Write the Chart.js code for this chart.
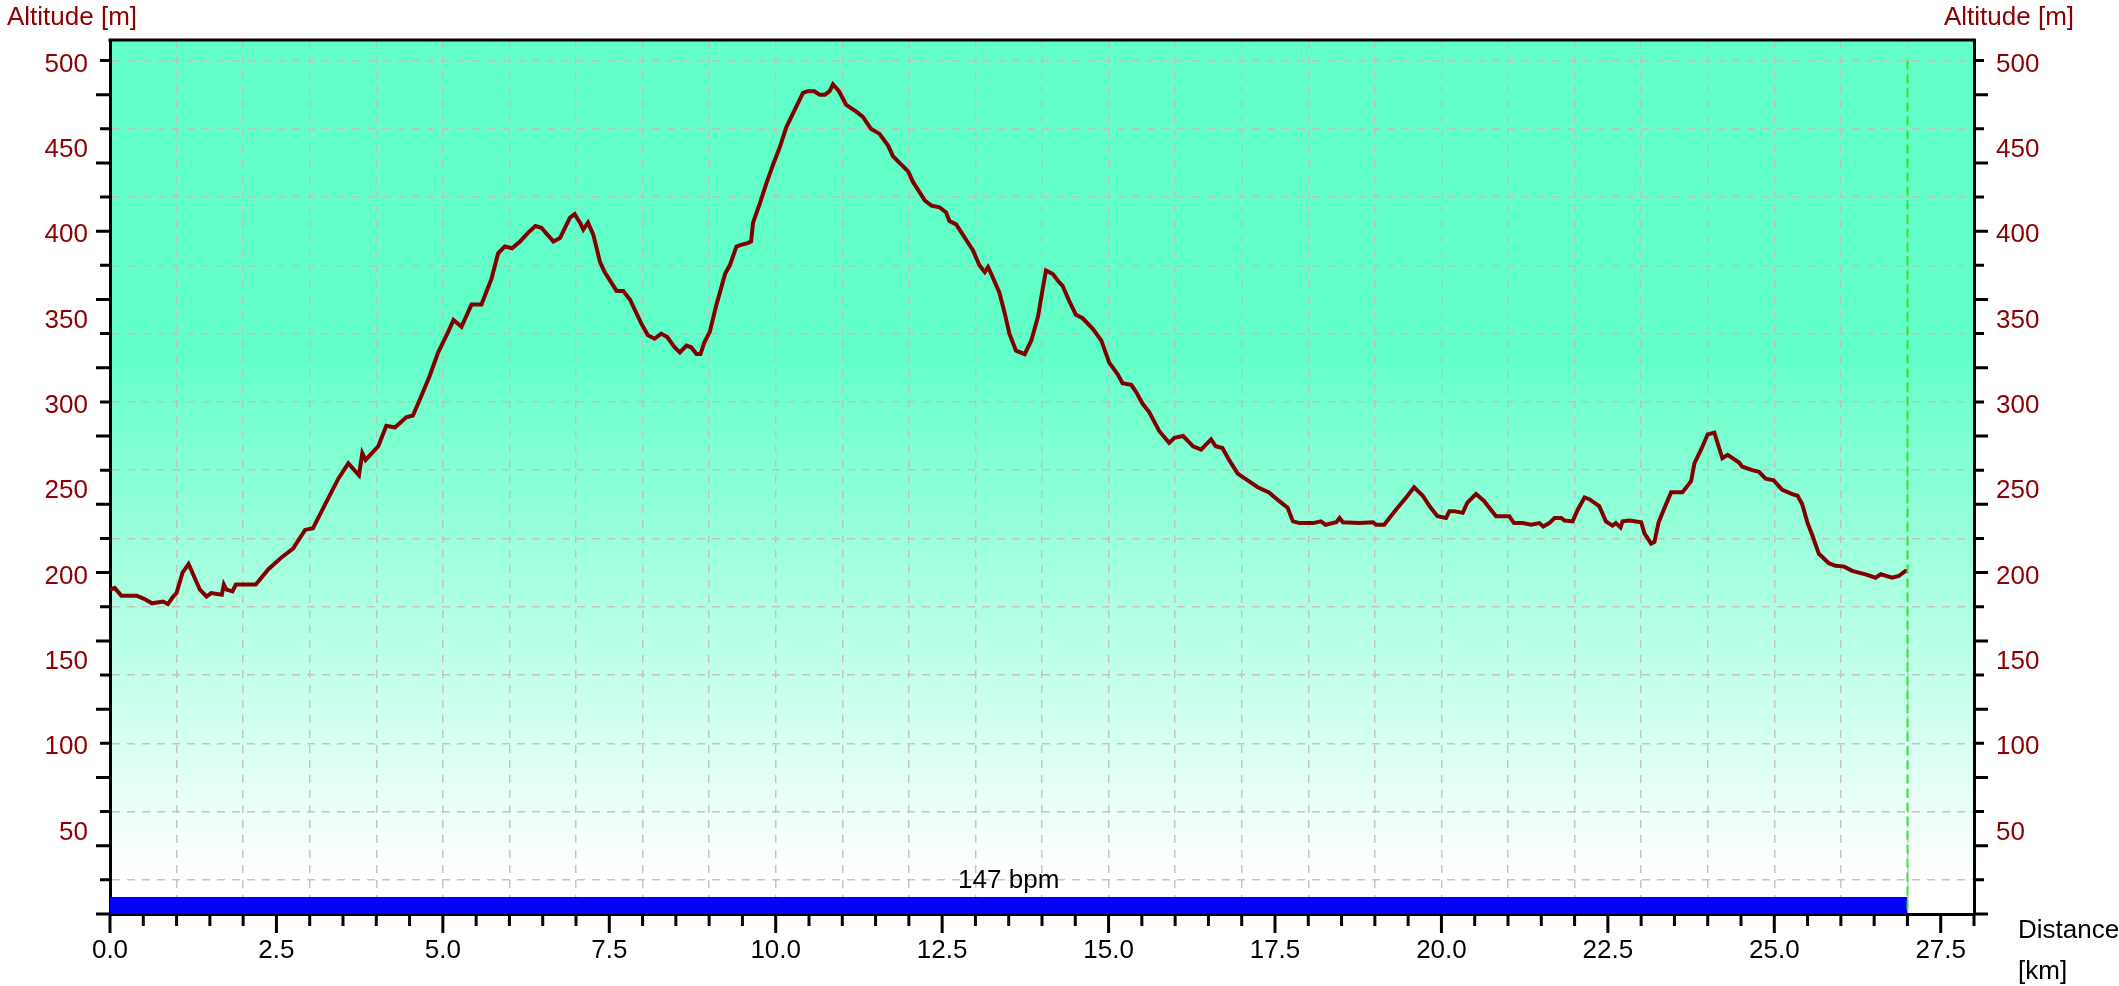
<!DOCTYPE html>
<html>
<head>
<meta charset="utf-8">
<script src="https://cdn.jsdelivr.net/npm/chart.js@4/dist/chart.umd.min.js"></script>
<style>
html,body{margin:0;padding:0;background:#fff;}
#wrap{width:2119px;height:986px;position:relative;}
</style>
</head>
<body>
<div id="wrap"><canvas id="c"></canvas></div>
<script>
// ---- data ----
const distanceKm = [0.0,0.07,0.17,0.40,0.52,0.63,0.80,0.87,0.95,1.0,1.09,1.18,1.35,1.45,1.52,1.68,1.71,1.75,1.84,1.89,2.19,2.38,2.58,2.75,2.93,3.05,3.18,3.43,3.58,3.74,3.79,3.84,4.03,4.15,4.28,4.45,4.55,4.65,4.80,4.93,5.08,5.16,5.28,5.43,5.58,5.73,5.83,5.93,6.04,6.16,6.28,6.39,6.48,6.66,6.76,6.91,6.98,7.06,7.11,7.18,7.26,7.36,7.43,7.61,7.71,7.81,7.98,8.08,8.18,8.28,8.37,8.48,8.56,8.66,8.73,8.81,8.87,8.93,9.01,9.11,9.24,9.31,9.41,9.48,9.58,9.63,9.66,9.76,9.86,9.96,10.06,10.16,10.26,10.41,10.48,10.58,10.66,10.74,10.81,10.86,10.95,11.06,11.21,11.31,11.43,11.56,11.69,11.76,11.86,11.99,12.06,12.24,12.34,12.46,12.56,12.61,12.71,12.86,12.96,13.06,13.14,13.19,13.26,13.36,13.44,13.51,13.61,13.74,13.84,13.94,14.01,14.06,14.16,14.26,14.31,14.41,14.51,14.61,14.76,14.89,15.01,15.14,15.21,15.34,15.41,15.51,15.61,15.76,15.91,15.99,16.12,16.27,16.39,16.54,16.61,16.71,16.81,16.94,17.09,17.24,17.41,17.56,17.69,17.77,17.87,18.07,18.19,18.26,18.42,18.47,18.52,18.77,18.97,19.02,19.14,19.32,19.47,19.59,19.72,19.82,19.94,20.07,20.12,20.19,20.32,20.39,20.52,20.64,20.82,21.02,21.09,21.22,21.35,21.47,21.53,21.62,21.70,21.80,21.85,21.97,22.05,22.15,22.22,22.37,22.47,22.57,22.62,22.69,22.72,22.82,23.0,23.05,23.15,23.20,23.26,23.32,23.45,23.62,23.75,23.80,23.90,24.00,24.10,24.22,24.30,24.47,24.52,24.67,24.77,24.87,24.99,25.12,25.27,25.35,25.42,25.50,25.57,25.67,25.82,25.92,26.05,26.17,26.37,26.52,26.60,26.77,26.87,26.97,27.0];
const altitudeM = [190,191,186.5,186.5,184.5,182,183,181.5,186,188,200,205,190,186,188,187,193,190,189,193,193,202,209,214,225,226,236,255,264,257,270,266,274,286,285,291,292,301,315,329,341,348,344,357,357,372,387,391,390,394,399,403,402,394,396,408,410,405,401,405,398,382,376,365,365,360,346,339,337,340,338,332,329,333,332,328,328,335,341,357,375,380,391,392,393,394,405,416,428,439,449,461,469,481,482,482,480,480,482,486,482,474,470,467,460,457,450,444,440,435,429,418,415,414,411,406,404,395,389,380,376,379,373,364,352,340,330,328,336,350,366,377,375,370,368,359,351,349,343,336,323,316,311,310,306,299,294,283,276,279,280,274,272,278,274,273,266,258,254,250,247,242,238,230,229,229,230,228,229.5,232,229.5,229,229.5,228,228,237,244,250,245,239,233,232,236,236,235,241,246,242,233,233,229,229,228,229,227,229,232,232,230.5,230,237,244,243,239,230,227.5,229,226.5,230,230.5,229.5,223,217,218,229,235,247,247,253.5,264,272,281,282,267,269,264.5,262,260,259,255,254,248.5,246,245,240,229,222,211,205.5,204,203.5,201,199,197,199,197,198,201,201];
const heartRateBand = { label: '147 bpm', fromKm: 0, toKm: 27, level: 10 };
const yTickLabels = [50,100,150,200,250,300,350,400,450,500];
const xTickLabels = [0,2.5,5,7.5,10,12.5,15,17.5,20,22.5,25,27.5];
const axisTitleY = 'Altitude [m]';
const axisTitleX = ['Distance','[km]'];
const routeEndKm = 27;

// ---- styles ----
const FONT = "'Liberation Sans', Arial, Helvetica, sans-serif";
const FS = 26;
const RED = '#8b0000';
const GRID = 'rgba(195,190,190,0.9)';

const profile = distanceKm.map((d,i)=>({x:d,y:altitudeM[i]}));
const band = [{x:heartRateBand.fromKm,y:heartRateBand.level},{x:heartRateBand.toKm,y:heartRateBand.level}];

const decor = {
  id:'decor',
  beforeDraw(chart){
    const {ctx, chartArea:a} = chart;
    const g = ctx.createLinearGradient(0,a.top,0,a.bottom);
    const y = chart.scales.y;
    const s1 = (y.getPixelForValue(330)-a.top)/(a.bottom-a.top);
    const s2 = (y.getPixelForValue(22)-a.top)/(a.bottom-a.top);
    g.addColorStop(0,'rgb(98,255,200)');
    g.addColorStop(s1,'rgb(98,255,200)');
    g.addColorStop(s2,'rgb(255,255,255)');
    g.addColorStop(1,'rgb(255,255,255)');
    ctx.save();
    ctx.fillStyle='#fff';
    ctx.fillRect(0,0,chart.width,chart.height);
    ctx.fillStyle=g;
    ctx.fillRect(a.left,a.top,a.right-a.left,a.bottom-a.top);
    ctx.restore();
  },
  afterDatasetsDraw(chart){
    const {ctx, chartArea:a, scales} = chart;
    const x = scales.x, y = scales.y;
    ctx.save();
    const xe = Math.round(x.getPixelForValue(routeEndKm))+0.5;
    ctx.strokeStyle='#2ee62e';
    ctx.lineWidth=2;
    ctx.setLineDash([9,5]);
    ctx.beginPath();
    ctx.moveTo(xe,y.getPixelForValue(500));
    ctx.lineTo(xe,a.bottom);
    ctx.stroke();
    ctx.setLineDash([]);
    ctx.fillStyle='#000';
    ctx.font=FS+'px '+FONT;
    ctx.textAlign='center';
    ctx.textBaseline='middle';
    const bx = x.getPixelForValue((heartRateBand.fromKm+heartRateBand.toKm)/2);
    ctx.fillText(heartRateBand.label,bx,y.getPixelForValue(heartRateBand.level)-16);
    ctx.restore();
  },
  afterDraw(chart){
    const {ctx, chartArea:a, scales} = chart;
    const x = scales.x, y = scales.y;
    ctx.save();
    ctx.strokeStyle='#000';
    ctx.lineWidth=3;
    ctx.lineCap='butt';
    ctx.beginPath();
    ctx.moveTo(a.left-1.5,a.top);
    ctx.lineTo(a.right+1.5,a.top);
    ctx.stroke();
    for(let v=0; v<=500; v+=20){
      const p = y.getPixelForValue(v);
      const len = (v%40===0)?14:10;
      ctx.beginPath();
      ctx.moveTo(a.left-len,p); ctx.lineTo(a.left,p);
      ctx.moveTo(a.right,p); ctx.lineTo(a.right+len,p);
      ctx.stroke();
    }
    for(let k=0; k<=56; k++){
      const v = k*0.5;
      const p = x.getPixelForValue(v);
      const len = (k%5===0)?19:12;
      ctx.beginPath();
      ctx.moveTo(p,a.bottom); ctx.lineTo(p,a.bottom+len);
      ctx.stroke();
    }
    ctx.font=FS+'px '+FONT;
    ctx.textBaseline='middle';
    ctx.fillStyle=RED;
    ctx.textAlign='left';
    ctx.fillText(axisTitleY,7,18);
    ctx.fillText(axisTitleY,1944,18);
    ctx.fillStyle='#000';
    ctx.fillText(axisTitleX[0],2018,931);
    ctx.fillText(axisTitleX[1],2018,972);
    ctx.restore();
  }
};

function yTicks(scale){
  const t=[]; for(let v=10; v<=500; v+=10) t.push({value:v}); scale.ticks=t;
}
const yScaleCommon = {
  type:'linear', min:0, max:512,
  afterBuildTicks: yTicks,
  ticks:{
    autoSkip:false,
    padding:22,
    labelOffset:4,
    color:RED,
    font:{family:FONT,size:FS},
    callback:(v)=> yTickLabels.includes(v) ? String(v) : ''
  },
  border:{display:true,color:'#000',width:3,dash:[8,7]},
};

new Chart(document.getElementById('c'),{
  type:'line',
  data:{datasets:[
    {label:'Altitude',data:profile,borderColor:'#800000',borderWidth:4,pointRadius:0,tension:0,fill:false,order:1},
    {label:'Heart rate',data:band,borderColor:'#0000ff',backgroundColor:'#0000ff',borderWidth:0,pointRadius:0,fill:'origin',order:2}
  ]},
  options:{
    responsive:true, maintainAspectRatio:false, animation:false,
    layout:{padding:{top:40,left:0,right:0,bottom:0}},
    plugins:{legend:{display:false},tooltip:{enabled:false}},
    scales:{
      x:{
        type:'linear', min:0, max:28, position:'bottom',
        afterBuildTicks:(s)=>{const t=[];for(let k=0;k<=56;k++)t.push({value:k*0.5});s.ticks=t;},
        afterFit:(s)=>{s.height=72;},
        ticks:{
          autoSkip:false, maxRotation:0, padding:21, color:'#000',
          font:{family:FONT,size:FS},
          callback:(v)=> xTickLabels.some(l=>Math.abs(l-v)<1e-6) ? v.toFixed(1) : ''
        },
        grid:{
          drawTicks:false,
          color:(c)=>{const v=c.tick&&c.tick.value; return (v>0 && v<28 && Math.abs(v-Math.round(v))<1e-6)?GRID:'rgba(0,0,0,0)';},
          lineWidth:1.5
        },
        border:{display:true,color:'#000',width:3,dash:[8,7]}
      },
      y:Object.assign({},yScaleCommon,{
        position:'left',
        afterFit:(s)=>{s.width=110;},
        grid:{drawTicks:false,lineWidth:1.5,
          color:(c)=>{const v=c.tick&&c.tick.value; return (v%40===20)?GRID:'rgba(0,0,0,0)';}}
      }),
      y2:Object.assign({},yScaleCommon,{
        position:'right',
        afterFit:(s)=>{s.width=145;},
        grid:{drawOnChartArea:false,drawTicks:false}
      })
    }
  },
  plugins:[decor]
});
</script>
</body>
</html>
